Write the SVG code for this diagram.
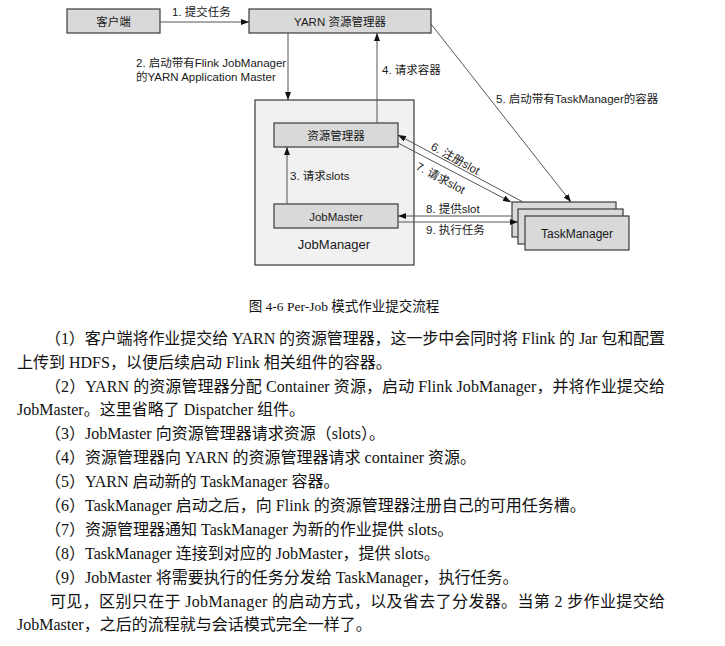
<svg xmlns="http://www.w3.org/2000/svg" width="725" height="646" viewBox="0 0 725 646">
<style>
.box{fill:#d9d9d9;stroke:#3a3a3a;stroke-width:1.2}
.outer{fill:#f1f1f1;stroke:#3a3a3a;stroke-width:1.2}
.t{font-family:"Liberation Sans","Noto Sans CJK SC",sans-serif;font-size:11.5px;fill:#1a1a1a}
.c{text-anchor:middle}
.ln{stroke:#555;stroke-width:1;fill:none;marker-end:url(#ah)}
.body{font-family:"Liberation Serif","Noto Sans CJK SC",serif;font-size:16px;fill:#111}
.cap{font-family:"Liberation Serif","Noto Sans CJK SC",serif;font-size:13.5px;fill:#111;text-anchor:middle}
</style>
<defs>
<marker id="ah" markerUnits="userSpaceOnUse" markerWidth="8" markerHeight="6" refX="8" refY="3" orient="auto">
<path d="M0,0 L8,3 L0,6 z" fill="#111"/>
</marker>
</defs>
<rect width="725" height="646" fill="#fff"/>

<g id="client"><rect class="box" x="67" y="9" width="93" height="24"/><text class="t c" x="113.5" y="25.5">客户端</text></g>
<g id="yarn-rm"><rect class="box" x="249" y="9" width="182" height="24"/><text class="t c" x="340" y="25.5">YARN 资源管理器</text></g>
<g id="jobmanager"><rect class="outer" x="255" y="100" width="159" height="165"/><text class="t c" x="334" y="249" style="font-size:13px">JobManager</text></g>
<g id="rm"><rect class="box" x="274" y="123" width="124" height="24"/><text class="t c" x="336" y="139.5">资源管理器</text></g>
<g id="jobmaster"><rect class="box" x="274" y="204" width="124" height="24"/><text class="t c" x="336" y="220.5">JobMaster</text></g>
<g id="taskmanager">
<rect class="box" x="512" y="202" width="104" height="35"/>
<rect class="box" x="518" y="209" width="105" height="35"/>
<rect class="box" x="525" y="216" width="104" height="34"/>
<text class="t c" x="577" y="237.5" style="font-size:12px">TaskManager</text>
</g>

<g id="connectors">
<path class="ln" d="M160,22 L249,22"/>
<path class="ln" d="M288,33 L288,100"/>
<path class="ln" d="M287,204 L287,147"/>
<path class="ln" d="M377,123 L377,33"/>
<path class="ln" d="M431,24 L571,202"/>
<path class="ln" d="M523,202 L398,135"/>
<path class="ln" d="M398,143 L511,202"/>
<path class="ln" d="M512,216 L398,216"/>
<path class="ln" d="M398,222 L518,222"/>
<text class="t" x="172" y="16">1. 提交任务</text>
<text class="t" x="136" y="67">2. 启动带有Flink JobManager</text>
<text class="t" x="136" y="81">的YARN Application Master</text>
<text class="t" x="290" y="180">3. 请求slots</text>
<text class="t" x="382" y="74">4. 请求容器</text>
<text class="t" x="496" y="103">5. 启动带有TaskManager的容器</text>
<text class="t" x="430" y="149" transform="rotate(29 430 149)">6. 注册slot</text>
<text class="t" x="415" y="169" transform="rotate(28 415 169)">7. 请求slot</text>
<text class="t" x="426" y="213">8. 提供slot</text>
<text class="t" x="426" y="234">9. 执行任务</text>
</g>

<text class="cap" x="344" y="311">图 4-6 Per-Job 模式作业提交流程</text>
<text class="body" x="45" y="344" textLength="620" lengthAdjust="spacing">（1）客户端将作业提交给 YARN 的资源管理器，这一步中会同时将 Flink 的 Jar 包和配置</text>
<text class="body" x="17" y="368">上传到 HDFS，以便后续启动 Flink 相关组件的容器。</text>
<text class="body" x="45" y="392" textLength="620" lengthAdjust="spacing">（2）YARN 的资源管理器分配 Container 资源，启动 Flink JobManager，并将作业提交给</text>
<text class="body" x="17" y="415">JobMaster。这里省略了 Dispatcher 组件。</text>
<text class="body" x="45" y="439">（3）JobMaster 向资源管理器请求资源（slots）。</text>
<text class="body" x="45" y="463">（4）资源管理器向 YARN 的资源管理器请求 container 资源。</text>
<text class="body" x="45" y="487">（5）YARN 启动新的 TaskManager 容器。</text>
<text class="body" x="45" y="511">（6）TaskManager 启动之后，向 Flink 的资源管理器注册自己的可用任务槽。</text>
<text class="body" x="45" y="535">（7）资源管理器通知 TaskManager 为新的作业提供 slots。</text>
<text class="body" x="45" y="559">（8）TaskManager 连接到对应的 JobMaster，提供 slots。</text>
<text class="body" x="45" y="583">（9）JobMaster 将需要执行的任务分发给 TaskManager，执行任务。</text>
<text class="body" x="50" y="607" textLength="615" lengthAdjust="spacing">可见，区别只在于 JobManager 的启动方式，以及省去了分发器。当第 2 步作业提交给</text>
<text class="body" x="17" y="630">JobMaster，之后的流程就与会话模式完全一样了。</text>
</svg>
